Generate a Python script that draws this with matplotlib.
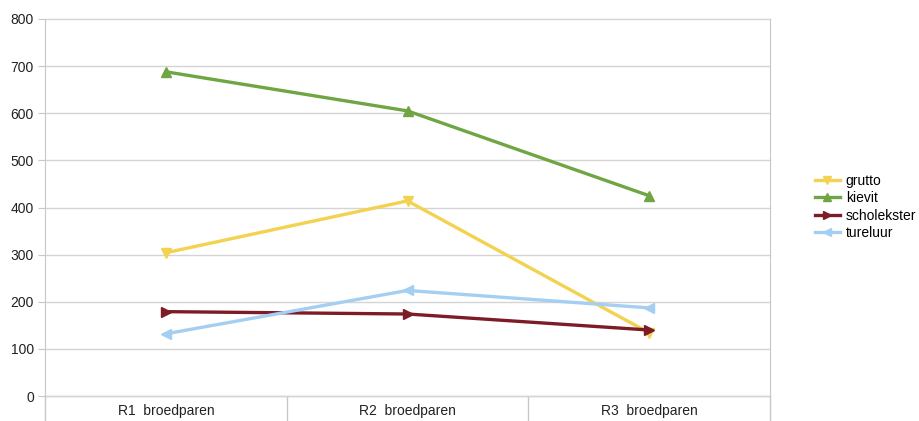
import numpy as np
import matplotlib.pyplot as plt

# broedparen per ronde
rondes = ["R1  broedparen", "R2  broedparen", "R3  broedparen"]
grutto = [304, 414, 134]
kievit = [688, 605, 425]
scholekster = [179, 174, 140]
tureluur = [132, 224, 187]

series = [
    ("grutto", grutto, "#f2d250", "v"),
    ("kievit", kievit, "#6fa643", "^"),
    ("scholekster", scholekster, "#7d1c27", ">"),
    ("tureluur", tureluur, "#a5cff2", "<"),
]

plt.rcParams['font.family'] = ['Liberation Sans', 'DejaVu Sans']

fig = plt.figure(figsize=(9.19, 4.21), dpi=100)
ax = fig.add_axes([45 / 919, 25 / 421, 725 / 919, 377 / 421])

x = np.arange(1, len(rondes) + 1)
for name, vals, color, marker in series:
    ax.plot(x, vals, color=color, lw=2.4, marker=marker, markersize=7.5,
            label=name, zorder=3)

ax.set_xlim(0.5, len(rondes) + 0.5)
ax.set_ylim(0, 800)
ax.set_yticks(np.arange(0, 801, 100))
ax.yaxis.grid(True, color="#d4d4d4", lw=1, clip_on=False)
ax.axhline(0, color="#d4d4d4", lw=1, clip_on=False, zorder=0)
ax.set_axisbelow(True)

# category boundaries as long ticks, labels centred between them
ax.set_xticks(np.arange(0.5, len(rondes) + 1, 1))
ax.set_xticklabels([])
ax.set_xticks(x, minor=True)
ax.set_xticklabels(rondes, minor=True)
ax.tick_params(axis="x", which="major", length=18, color="#c8c8c8", width=1)
ax.tick_params(axis="x", which="minor", length=0, pad=6, labelsize=10,
               labelcolor="#222222")
ax.tick_params(axis="y", length=5, color="#c8c8c8", labelsize=10,
               labelcolor="#222222", pad=3)

for side in ["top", "bottom"]:
    ax.spines[side].set_visible(False)
for side in ["left", "right"]:
    ax.spines[side].set_color("#c8c8c8")

fig.legend(loc="upper left", bbox_to_anchor=(809 / 919, 1 - 168 / 421),
           frameon=False, fontsize=10, handlelength=1.8, labelspacing=0.25,
           handletextpad=0.45, borderaxespad=0, markerscale=0.7)

fig.savefig("out.png", dpi=100)
